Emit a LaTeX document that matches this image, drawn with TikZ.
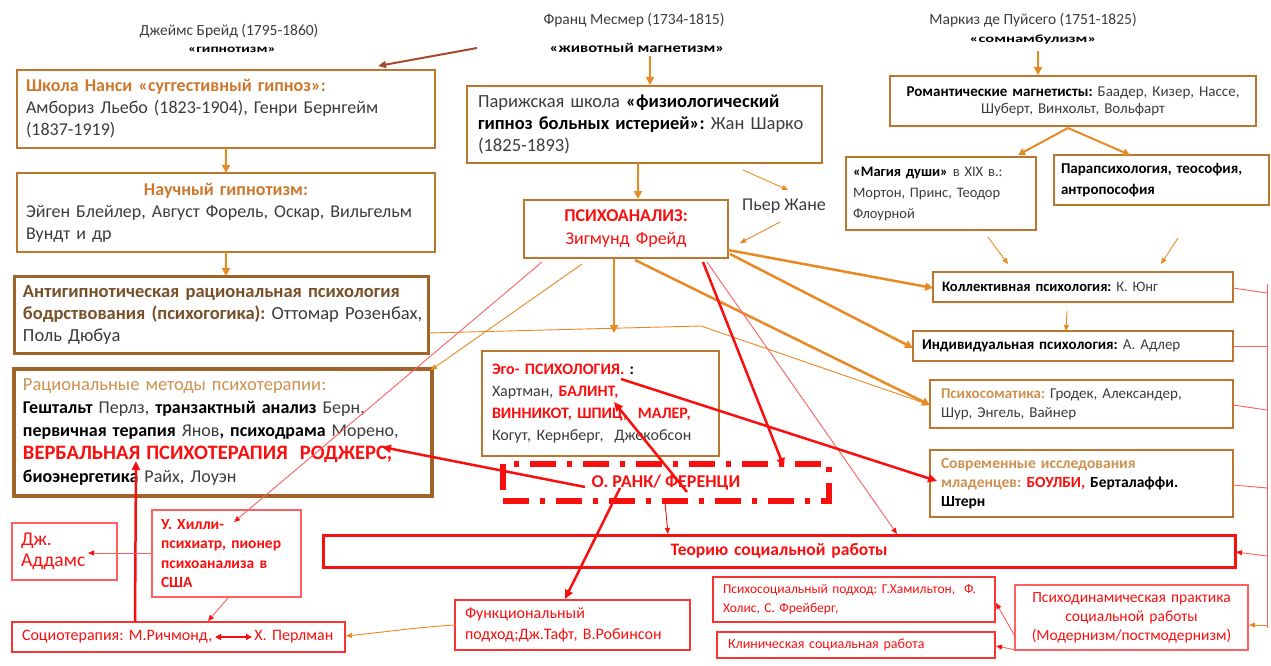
\documentclass[tikz,border=0pt]{standalone}
\usepackage{fontspec}
\usepackage{graphicx}
\setmainfont{Carlito}
\usetikzlibrary{arrows.meta}
\definecolor{boxbr}{RGB}{188,118,45}
\definecolor{boxdk}{RGB}{160,100,40}
\definecolor{arror}{RGB}{232,138,35}
\definecolor{titor}{RGB}{205,120,45}
\definecolor{darkbr}{RGB}{120,80,40}
\definecolor{tanc}{RGB}{205,145,80}
\definecolor{txtg}{RGB}{60,60,60}
\definecolor{redc}{RGB}{250,15,15}
\definecolor{lred}{RGB}{255,95,95}
\definecolor{brownarr}{RGB}{165,75,45}
\newcommand{\fs}[2]{\fontsize{#1}{#2}\selectfont}
\newcommand{\hsx}[2]{\scalebox{#1}[1]{#2}}
\newcommand{\bk}[1]{{\color{black}\bfseries #1}}
\frenchspacing
\begin{document}
\frenchspacing
\begin{tikzpicture}[x=1pt,y=-1pt,
  box/.style={draw=boxbr, fill=white, line width=2.5pt, anchor=north west, inner sep=0pt, inner xsep=9pt, outer sep=0pt, align=left, text=txtg},
  rbox/.style={draw=redc!85, fill=white, line width=1.8pt, anchor=north west, inner sep=0pt, inner xsep=9pt, outer sep=0pt, align=left, text=redc},
  lbox/.style={draw=lred, fill=white, line width=1.1pt, anchor=north west, inner sep=0pt, inner xsep=9pt, outer sep=0pt, align=left, text=redc},
  lbl/.style={inner sep=0pt, text=txtg},
  aO/.style={draw=arror, line width=2.5pt, -{Triangle[length=8pt,width=8pt]}},
  aOm/.style={draw=arror, line width=2pt, -{Triangle[length=7pt,width=7pt]}},
  aOt/.style={draw=arror, line width=0.9pt, -{Triangle[length=6pt,width=5pt]}},
  aR/.style={draw=redc, line width=2.5pt, -{Triangle[length=9pt,width=8pt]}},
  aRt/.style={draw=lred, line width=0.9pt, -{Triangle[length=6pt,width=5pt,color=redc]}},
  lRt/.style={draw=lred, line width=0.9pt},
]
\useasboundingbox (0,0) rectangle (1271,666);
\fill[white] (0,0) rectangle (1271,666);

% top labels
\node[lbl, font=\fs{15.5}{18}] (braid) at (229,31) {Джеймс Брейд (1795-1860)};
\node[lbl, font=\fs{11}{13}\bfseries, text=black] (braid2) at (232,50) {\hsx{1.4}{«гипнотизм»}};
\node[lbl, font=\fs{15.5}{18}] (mesm) at (634,20) {Франц Месмер (1734-1815)};
\node[lbl, font=\fs{13.5}{16}\bfseries, text=black] (mesm2) at (637,48) {\hsx{1.23}{«животный магнетизм»}};
\node[lbl, font=\fs{15.5}{18}] (puys) at (1033,20) {Маркиз де Пуйсего (1751-1825)};
\node[lbl, font=\fs{11}{13}\bfseries, text=black] (puys2) at (1033,40) {\hsx{1.5}{«сомнамбулизм»}};

% left column
\node[box, minimum width=418pt, minimum height=78pt, text width=400pt, font=\fs{18}{22}] (A) at (17,70)
 {{\color{titor}\bfseries Школа Нанси «суггестивный гипноз»:}\\Амбориз Льебо (1823-1904), Генри Бернгейм\\(1837-1919)};
\node[box, minimum width=418pt, minimum height=79pt, text width=400pt, font=\fs{18}{22}] (B) at (17,173)
 {\makebox[400pt]{\color{titor}\bfseries Научный гипнотизм:}\\\mbox{Эйген Блейлер, Август Форель, Оскар, Вильгельм}\\Вундт и др};
\node[box, draw=boxdk, line width=3pt, minimum width=414pt, minimum height=77pt, text width=396pt, font=\fs{18.5}{22}] (C) at (14,276)
 {{\color{darkbr}\bfseries Антигипнотическая рациональная психология}\\\mbox{{\color{darkbr}\bfseries бодрствования (психогогика):} Оттомар Розенбах,}\\Поль Дюбуа};
\node[box, draw=boxdk, line width=3.5pt, minimum width=418pt, minimum height=127pt, text width=400pt, font=\fs{18}{23}] (D) at (14,369)
 {{\color{tanc}\fs{18.5}{23}Рациональные методы психотерапии:}\\
  \mbox{\bk{Гештальт} Перлз, \bk{транзактный анализ} Берн,}\\
  \mbox{\bk{первичная терапия} Янов\bk{, психодрама} Морено,}\\
  \mbox{\color{redc}\bfseries\fs{20.5}{23}ВЕРБАЛЬНАЯ ПСИХОТЕРАПИЯ\ \ РОДЖЕРС,}\\
  \bk{биоэнергетика} Райх, Лоуэн};

% centre column
\node[box, inner xsep=11pt, minimum width=355pt, minimum height=77pt, text width=333pt, font=\fs{18.5}{22}] (E) at (467,86)
 {Парижская школа \bk{«физиологический}\\\bk{гипноз больных истерией»:} Жан Шарко\\(1825-1893)};
\node[box, minimum width=204pt, minimum height=58pt, text width=186pt, align=center, text=redc, font=\fs{18}{23}] (F) at (524,200)
 {{\bfseries ПСИХОАНАЛИЗ:}\\Зигмунд Фрейд};
\node[lbl, font=\fs{18}{22}] (janet) at (784,206) {Пьер Жане};
\node[box, inner xsep=10pt, minimum width=237pt, minimum height=105pt, text width=217pt, font=\fs{16}{22}] (ego) at (482,351)
 {{\color{redc}\bfseries Эго- ПСИХОЛОГИЯ.} \bk{:}\\Хартман, {\color{redc}\bfseries БАЛИНТ,}\\\mbox{\color{redc}\bfseries ВИННИКОТ, ШПИЦ,\ \ МАЛЕР,}\\Когут, Кернберг,\ \ Джекобсон};
\node[draw=redc, line width=5.5pt, dash pattern=on 26pt off 11pt on 5pt off 11pt, minimum width=326pt, minimum height=37pt, inner sep=0pt, text=redc, font=\fs{18}{20}\bfseries] (rank) at (666,482.5) {О. РАНК/ ФЕРЕНЦИ};

% right column
\node[box, minimum width=366pt, minimum height=50pt, text width=348pt, align=center, font=\fs{15}{17}] (G) at (890,76)
 {\bk{Романтические магнетисты:} Баадер, Кизер, Нассе,\\Шуберт, Винхольт, Вольфарт};
\node[box, inner xsep=7pt, minimum width=190pt, minimum height=73pt, text width=176pt, font=\fs{14.5}{21}] (H) at (846,157)
 {\bk{«Магия души»} в XIX в.:\\Мортон, Принс, Теодор\\Флоурной};
\node[box, inner xsep=7pt, minimum width=215pt, minimum height=50pt, text width=201pt, font=\fs{15}{21}] (I) at (1054,155)
 {\bk{Парапсихология, теософия,}\\\bk{антропософия}};
\node[box, minimum width=300pt, minimum height=30pt, text width=282pt, font=\fs{14.5}{18}] (J) at (933,272)
 {\bk{Коллективная психология:} К. Юнг};
\node[box, minimum width=320pt, minimum height=30pt, text width=302pt, font=\fs{15}{18}] (K) at (913,331)
 {\bk{Индивидуальная психология:} А. Адлер};
\node[box, inner xsep=11pt, minimum width=303pt, minimum height=48pt, text width=281pt, font=\fs{15}{19}] (L) at (930,380)
 {{\color{tanc}\bfseries Психосоматика:} Гродек, Александер,\\Шур, Энгель, Вайнер};
\node[box, inner xsep=11pt, minimum width=303pt, minimum height=67pt, text width=281pt, font=\fs{15.5}{19}] (M) at (930,450)
 {{\color{tanc}\bfseries Современные исследования}\\{\color{tanc}\bfseries младенцев:} {\color{redc}\bfseries БОУЛБИ,} \bk{Берталаффи.}\\\bk{Штерн}};

% bottom
\node[rbox, draw=redc, line width=3pt, minimum width=912pt, minimum height=32pt, text width=894pt, align=center, font=\fs{17.5}{20}\bfseries] (T) at (323,535)
 {Теорию социальной работы};
\node[rbox, inner xsep=10pt, minimum width=282pt, minimum height=45pt, text width=262pt, font=\fs{13.5}{19}] (N) at (713,577)
 {Психосоциальный подход: Г.Хамильтон,\ \ Ф.\\Холис, С. Фрейберг,};
\node[rbox, inner xsep=11pt, minimum width=278pt, minimum height=26pt, text width=256pt, font=\fs{14}{16}] (O) at (717,632)
 {Клиническая социальная работа};
\node[lbox, minimum width=233pt, minimum height=65pt, text width=215pt, align=center, font=\fs{15.5}{19}] (Q) at (1015,585)
 {Психодинамическая практика\\социальной работы\\(Модернизм/постмодернизм)};
\node[rbox, inner xsep=10pt, minimum width=235pt, minimum height=50pt, text width=215pt, font=\fs{16}{21}] (P) at (455,600)
 {Функциональный\\подход;Дж.Тафт, В.Робинсон};
\node[rbox, inner xsep=10pt, minimum width=333pt, minimum height=30pt, text width=313pt, font=\fs{16}{18}] (S) at (12,622)
 {Социотерапия: М.Ричмонд,\hspace{42pt}Х. Перлман};
\node[lbox, minimum width=149pt, minimum height=87pt, text width=131pt, font=\fs{15.5}{19.5}\bfseries] (U) at (152,510)
 {У. Хилли-\\психиатр, пионер\\психоанализа в\\США};
\node[lbox, minimum width=105pt, minimum height=57pt, text width=87pt, font=\fs{19.5}{21}] (V) at (12,523)
 {Дж.\\Аддамс};

% coordinates
\coordinate (br1) at (477,48);   \coordinate (br2) at (378,66);
\coordinate (m1) at (650,56);    \coordinate (m2) at (650,85);
\coordinate (p1) at (1038,51);   \coordinate (p2) at (1038,75);
\coordinate (e1) at (638,163);   \coordinate (e2) at (638,199);
\coordinate (e3) at (743,170);   \coordinate (e4) at (788,190);
\coordinate (j1) at (780,222);   \coordinate (j2) at (740,243);
\coordinate (g0) at (1068,128);  \coordinate (gh) at (1018,155); \coordinate (gi) at (1130,155);
\coordinate (h1) at (988,237);   \coordinate (h2) at (1008,264);
\coordinate (i1) at (1178,238);  \coordinate (i2) at (1161,264);
\coordinate (k1) at (1067,311);  \coordinate (k2) at (1066,331);
\coordinate (fj1) at (728,250);  \coordinate (fj2) at (933,288);
\coordinate (fk1) at (730,254);  \coordinate (fk2) at (913,348);
\coordinate (fl1) at (635,260);  \coordinate (fl2) at (930,405);
\coordinate (c1) at (428,333);   \coordinate (c2) at (701,326);
\coordinate (fd1) at (582,264);  \coordinate (fd2) at (431,370);
\coordinate (fe1) at (614,259);  \coordinate (fe2) at (614,333);
\coordinate (fu1) at (542,262);  \coordinate (fu2) at (234,522);
\coordinate (fr1) at (703,262);  \coordinate (fr2) at (784,467);
\coordinate (ft1) at (707,262);  \coordinate (ft2) at (897,534);
\coordinate (rs1) at (687,492);  \coordinate (rs2) at (614,402);
\coordinate (rd1) at (585,487);  \coordinate (rd2) at (382,447);
\coordinate (bm1) at (621,379);  \coordinate (bm2) at (937,481);
\coordinate (rt1) at (665,502);  \coordinate (rt2) at (668,534);
\coordinate (rp1) at (620,488);  \coordinate (rp2) at (565,599);
\coordinate (sd1) at (135,622);  \coordinate (sd2) at (136,461);
\coordinate (uv1) at (153,553);  \coordinate (uv2) at (88,553);
\coordinate (us1) at (228,598);  \coordinate (us2) at (208,621);
\coordinate (ps1) at (455,625);  \coordinate (ps2) at (346,636);
\coordinate (s1) at (215,637);   \coordinate (s2) at (252,637);
\coordinate (v1) at (1267,284);  \coordinate (v2) at (1267,628);
\coordinate (vj) at (1267,293);  \coordinate (vk) at (1267,346);
\coordinate (vl) at (1267,410);  \coordinate (vm) at (1267,488);
\coordinate (vt) at (1267,556);  \coordinate (vq) at (1267,625);
\coordinate (jr) at (1233,288);  \coordinate (kr) at (1233,346);
\coordinate (lr) at (1233,405);  \coordinate (mr) at (1233,485);
\coordinate (tr) at (1236,552);  \coordinate (qr) at (1249,625);
\coordinate (qn1) at (1016,638); \coordinate (qn2) at (996,603);
\coordinate (qo1) at (1016,650); \coordinate (qo2) at (996,646);

% connectors
\draw[brownarr, line width=2pt, -{Triangle[length=8pt,width=7pt]}] (br1) -- (br2);
\draw[aO] (m1) -- (m2);
\draw[aO] (p1) -- (p2);
\draw[aO] (A.south) -- (B.south |- B.north);
\draw[aO] (B.south) -- (B.south |- C.north);
\draw[aO] (e1) -- (e2);
\draw[aOt] (e3) -- (e4);
\draw[aOt] (j1) -- (j2);
\draw[aOm] (g0) -- (gh);
\draw[aOm] (g0) -- (gi);
\draw[aOt] (h1) -- (h2);
\draw[aOt] (i1) -- (i2);
\draw[aOt] (k1) -- (k2);
\draw[aO] (fj1) -- (fj2);
\draw[aO] (fk1) -- (fk2);
\draw[aO] (fl1) -- (fl2);
\draw[aOt] (c1) -- (c2) -- (fl2);
\draw[aOt] (fd1) -- (fd2);
\draw[aO] (fe1) -- (fe2);
\draw[aRt] (fu1) -- (fu2);
\draw[aR] (fr1) -- (fr2);
\draw[aRt] (ft1) -- (ft2);
\draw[aR] (rs1) -- (rs2);
\draw[aR] (rd1) -- (rd2);
\draw[aR] (bm1) -- (bm2);
\draw[aRt, draw=redc] (rt1) -- (rt2);
\draw[aR] (rp1) -- (rp2);
\draw[aR] (sd1) -- (sd2);
\draw[aRt] (uv1) -- (uv2);
\draw[aRt] (us1) -- (us2);
\draw[aOt] (ps1) .. controls (420,627) and (385,632) .. (ps2);
\draw[redc, line width=1.8pt, {Triangle[length=6pt,width=6pt]}-{Triangle[length=6pt,width=6pt]}] (s1) -- (s2);
\draw[lRt] (v1) -- (v2);
\draw[lRt] (jr) -- (vj);
\draw[lRt] (kr) -- (vk);
\draw[lRt] (lr) -- (vl);
\draw[lRt] (mr) -- (vm);
\draw[aRt] (vt) -- (tr);
\draw[aOt] (vq) -- (qr);
\draw[aRt] (qn1) -- (qn2);
\draw[aRt] (qo1) -- (qo2);
\end{tikzpicture}
\end{document}
